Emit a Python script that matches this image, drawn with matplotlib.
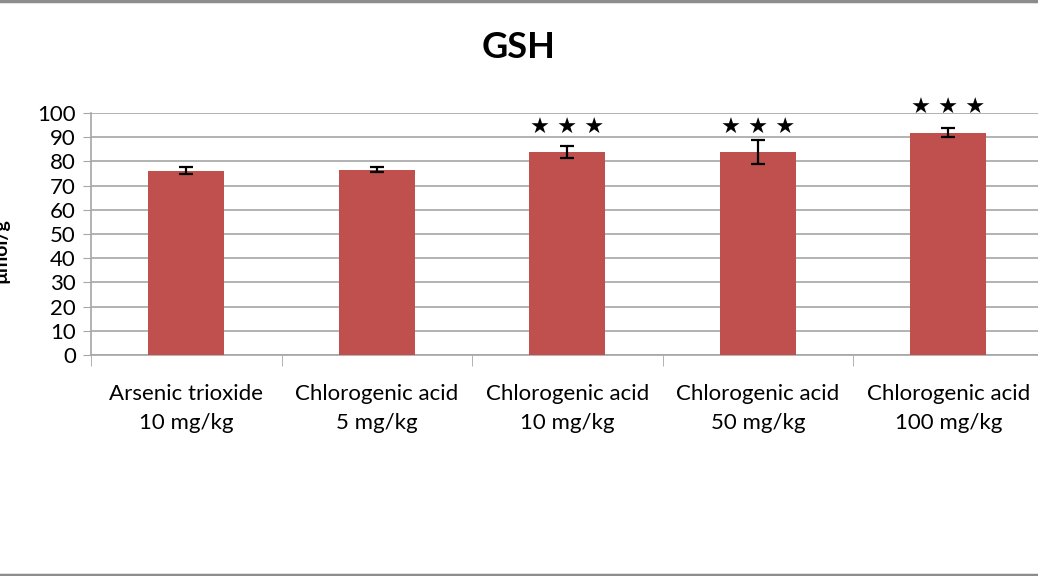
import numpy as np
import matplotlib.pyplot as plt
from matplotlib.lines import Line2D

# GSH levels per treatment group
groups = ["Arsenic trioxide\n10 mg/kg", "Chlorogenic acid\n5 mg/kg",
          "Chlorogenic acid\n10 mg/kg", "Chlorogenic acid\n50 mg/kg",
          "Chlorogenic acid\n100 mg/kg"]
gsh = [76.2, 76.6, 84.0, 83.8, 91.8]
gsh_err = [1.6, 1.1, 2.5, 5.0, 1.8]
stars = ["", "", "★ ★ ★", "★ ★ ★", "★ ★ ★"]
star_y = [0, 0, 94.0, 94.0, 102.2]

plt.rcParams['font.family'] = ['Lato', 'DejaVu Sans']

fig = plt.figure(figsize=(10.38, 5.76), dpi=100)
ax = fig.add_axes([0.0877, 0.3837, 0.9176, 0.4201])

x = np.arange(len(groups))
ax.bar(x, gsh, width=0.4, color="#c0504d", zorder=3)
ax.errorbar(x, gsh, yerr=gsh_err, fmt="none", ecolor="black",
            elinewidth=1.6, capsize=5, capthick=1.6, zorder=4)

for xi, s, sy in zip(x, stars, star_y):
    if s:
        ax.text(xi, sy, s, ha="center", va="center", fontsize=16,
                family="DejaVu Sans", color="black")

ax.set_xlim(-0.5, len(groups) - 0.5)
ax.set_ylim(0, 100)
ax.set_yticks(range(0, 101, 10))
ax.yaxis.grid(True, color="#a6a6a6", linewidth=1.2, zorder=0)
ax.set_axisbelow(True)

ax.set_xticks(x)
ax.set_xticklabels(groups, fontsize=16, linespacing=1.55)
ax.set_xticks(np.arange(-0.5, len(groups)), minor=True)
ax.tick_params(axis="x", which="major", length=0, pad=21)
ax.tick_params(axis="x", which="minor", length=8, color="#a6a6a6", direction="out")
ax.tick_params(axis="y", length=6, color="#a6a6a6", labelsize=16, pad=5)

for side in ["top", "right"]:
    ax.spines[side].set_visible(False)
for side in ["left", "bottom"]:
    ax.spines[side].set_color("#a6a6a6")
    ax.spines[side].set_linewidth(1.2)

fig.text(0.5, 0.917, "GSH", fontsize=26, fontweight="bold", ha="center", va="center")
fig.text(0.001, 0.565, "µmol/g", rotation=90, fontsize=14, fontweight="bold",
         ha="center", va="center")

# thin grey frame lines at top and bottom of the image
fig.add_artist(Line2D([0, 1], [0.998, 0.998], color="#8c8c8c", linewidth=2.5,
                      transform=fig.transFigure))
fig.add_artist(Line2D([0, 1], [0.002, 0.002], color="#8c8c8c", linewidth=2.5,
                      transform=fig.transFigure))

fig.savefig("out.png", dpi=100)
